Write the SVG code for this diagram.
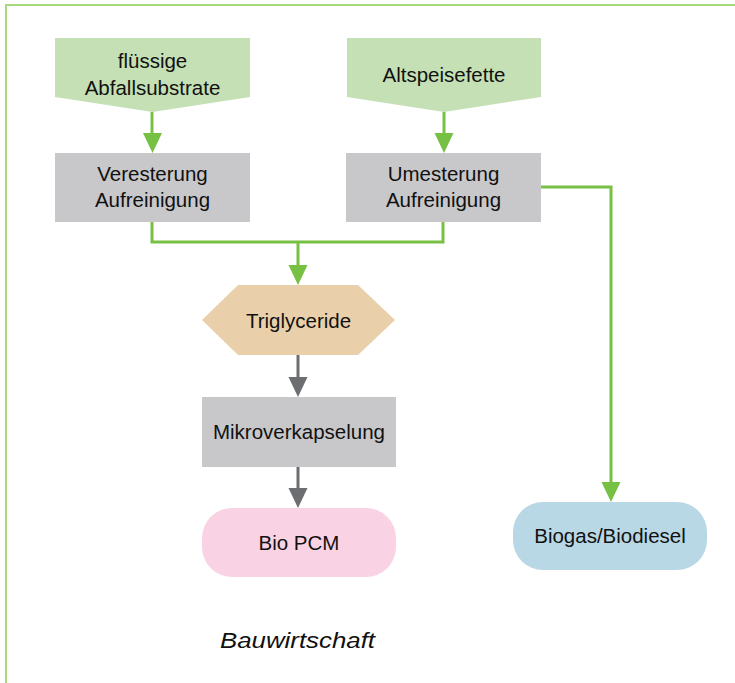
<svg xmlns="http://www.w3.org/2000/svg" width="735" height="683" viewBox="0 0 735 683">
<defs>
<style>
.t{font-family:"Liberation Sans",Arial,sans-serif;font-size:20.5px;fill:#111;text-anchor:middle}
.g{stroke:#76c043;stroke-width:3;fill:none}
.d{stroke:#6d6e71;stroke-width:3;fill:none}
.hg{fill:#76c043}
.hd{fill:#6d6e71}
</style>
</defs>
<rect width="735" height="683" fill="#fff"/>
<path d="M6,683 V5 H735" stroke="#a8d97c" stroke-width="2" fill="none"/>
<g id="connectors">
<path class="g" d="M152,112 V134"/>
<polygon class="hg" points="143,133 162,133 152.5,153"/>
<path class="g" d="M444,112 V134"/>
<polygon class="hg" points="434.5,133 453.5,133 444,153"/>
<path class="g" d="M152,222 V242 H443 V222"/>
<path class="g" d="M298,242 V266"/>
<polygon class="hg" points="288.5,265 307.5,265 298,285"/>
<path class="g" d="M541,187 H611 V483"/>
<polygon class="hg" points="601.5,482 620.5,482 611,502"/>
<path class="d" d="M298,355 V378"/>
<polygon class="hd" points="288.5,377 307.5,377 298,397"/>
<path class="d" d="M298,467 V489"/>
<polygon class="hd" points="288.5,488 307.5,488 298,508"/>
</g>
<g id="n1">
<polygon points="55,38 250,38 250,97 152.5,112 55,97" fill="#c5e0b4"/>
<text class="t" x="152.5" y="68">flüssige</text>
<text class="t" x="152.5" y="95">Abfallsubstrate</text>
</g>
<g id="n2">
<polygon points="347,38 541,38 541,97 444,112 347,97" fill="#c5e0b4"/>
<text class="t" x="444" y="82">Altspeisefette</text>
</g>
<g id="n3">
<rect x="55" y="153" width="195" height="69" fill="#c8c8ca"/>
<text class="t" x="152.5" y="181">Veresterung</text>
<text class="t" x="152.5" y="207">Aufreinigung</text>
</g>
<g id="n4">
<rect x="346" y="153" width="195" height="69" fill="#c8c8ca"/>
<text class="t" x="443.5" y="181">Umesterung</text>
<text class="t" x="443.5" y="207">Aufreinigung</text>
</g>
<g id="n5">
<polygon points="238,285 358,285 395,320 358,355 238,355 202,320" fill="#ead0aa"/>
<text class="t" x="298.5" y="328">Triglyceride</text>
</g>
<g id="n6">
<rect x="202" y="397" width="194" height="70" fill="#c8c8ca"/>
<text class="t" x="299" y="439">Mikroverkapselung</text>
</g>
<g id="n7">
<rect x="202" y="508" width="194" height="69" rx="30" ry="30" fill="#f9d3e4"/>
<text class="t" x="299" y="550">Bio PCM</text>
</g>
<g id="n8">
<rect x="513" y="502" width="194" height="68" rx="30" ry="30" fill="#b9d8e5"/>
<text class="t" x="610" y="543">Biogas/Biodiesel</text>
</g>
<text x="297.5" y="648" font-family="'Liberation Sans',Arial,sans-serif" font-style="italic" font-size="22" fill="#111" text-anchor="middle" textLength="155" lengthAdjust="spacingAndGlyphs">Bauwirtschaft</text>
</svg>
